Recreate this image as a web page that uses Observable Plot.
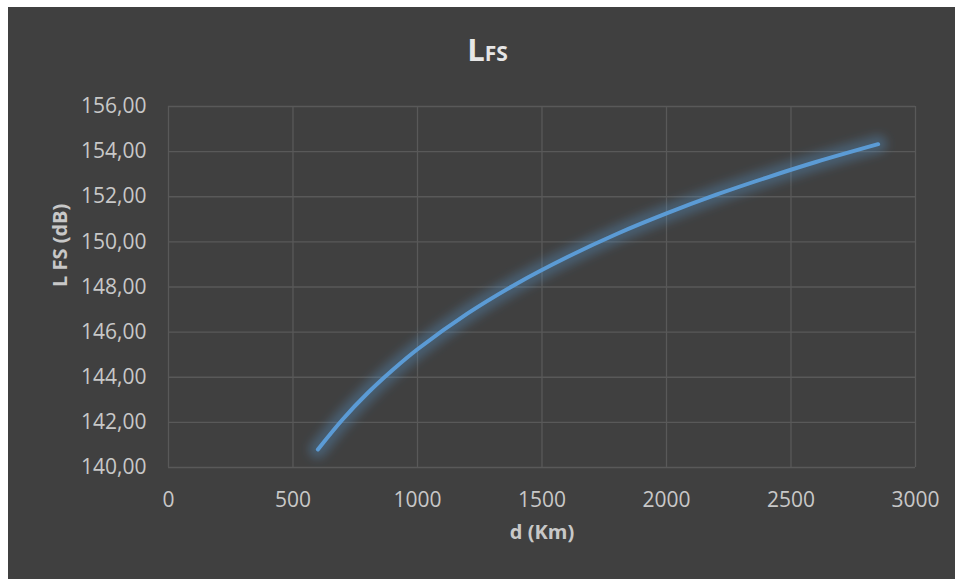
<!DOCTYPE html>
<html>
<head>
<meta charset="utf-8">
<script src="https://cdn.jsdelivr.net/npm/d3@7"></script>
<script src="https://cdn.jsdelivr.net/npm/@observablehq/plot@0.6"></script>
<style>
  html, body { margin: 0; padding: 0; background: #ffffff; }
  #panel {
    position: absolute; left: 8px; top: 7px; width: 947px; height: 572px;
    background: #404040; overflow: hidden;
    font-family: "Open Sans", sans-serif;
  }
  #title {
    height: 80px; box-sizing: border-box; padding-top: 27px; padding-left: 12px;
    text-align: center; color: #e6e6e6; font-weight: 700; line-height: 31px;
  }
  #title .big { font-size: 31px; }
  #title .small { font-size: 21px; }
</style>
</head>
<body>
<div id="panel">
  <div id="title"><span class="big">L</span><span class="small">FS</span></div>
  <div id="chart"></div>
</div>
<script>
// Free-space path loss versus link distance
const distances = [600, 700, 800, 900, 1000, 1200, 1400, 1600, 1800, 2000, 2200, 2400, 2600, 2850];
const losses = [140.8, 142.14, 143.3, 144.32, 145.24, 146.82, 148.16, 149.32, 150.35, 151.26, 152.09, 152.84, 153.54, 154.33];
const xTicks = [0, 500, 1000, 1500, 2000, 2500, 3000];
const yTicks = [140, 142, 144, 146, 148, 150, 152, 154, 156];
const xLabel = "d (Km)";
const yLabel = "L FS (dB)";

const rows = distances.map((d, i) => ({d, loss: losses[i]}));
const gridColor = "#595959";
const lineColor = "#5b9bd5";

const chart = Plot.plot({
  width: 947,
  height: 492,
  marginTop: 19,
  marginBottom: 112,
  marginLeft: 160,
  marginRight: 40,
  style: {background: "transparent", color: "#c8c8c8", fontFamily: "'Open Sans', sans-serif", fontSize: "21px"},
  x: {domain: [0, 3000], ticks: xTicks, tickFormat: d => String(d), tickSize: 0, tickPadding: 25, label: null},
  y: {domain: [140, 156], ticks: yTicks, tickFormat: d => d.toFixed(2).replace(".", ","), tickSize: 0, tickPadding: 22, label: null},
  marks: [
    Plot.gridX(xTicks, {stroke: gridColor, strokeOpacity: 1, strokeWidth: 1.3}),
    Plot.gridY(yTicks, {stroke: gridColor, strokeOpacity: 1, strokeWidth: 1.3}),
    Plot.line(rows, {x: "d", y: "loss", curve: "catmull-rom", stroke: lineColor, strokeWidth: 18, strokeOpacity: 0.32, strokeLinecap: "round", ariaDescription: "halo"}),
    Plot.line(rows, {x: "d", y: "loss", curve: "catmull-rom", stroke: lineColor, strokeWidth: 4, strokeLinecap: "round"}),
    Plot.text([xLabel], {frameAnchor: "bottom", dy: 71, text: d => d, fontWeight: "bold", fontSize: 20, fill: "#c8c8c8"}),
    Plot.text([yLabel], {frameAnchor: "left", dx: -108, rotate: -90, text: d => d, fontWeight: "bold", fontSize: 20, fill: "#c8c8c8"})
  ]
});

// soften the wide underlay into a halo with an SVG blur filter
const ns = "http://www.w3.org/2000/svg";
const defs = document.createElementNS(ns, "defs");
const filter = document.createElementNS(ns, "filter");
filter.setAttribute("id", "halo-blur");
filter.setAttribute("x", "-10%"); filter.setAttribute("y", "-10%");
filter.setAttribute("width", "120%"); filter.setAttribute("height", "120%");
const blur = document.createElementNS(ns, "feGaussianBlur");
blur.setAttribute("stdDeviation", "5");
filter.appendChild(blur);
defs.appendChild(filter);
chart.insertBefore(defs, chart.firstChild);
const halo = chart.querySelector('g[aria-description="halo"]') || chart.querySelectorAll('g[aria-label="line"]')[0];
if (halo) halo.setAttribute("filter", "url(#halo-blur)");

document.getElementById("chart").appendChild(chart);
</script>
</body>
</html>
